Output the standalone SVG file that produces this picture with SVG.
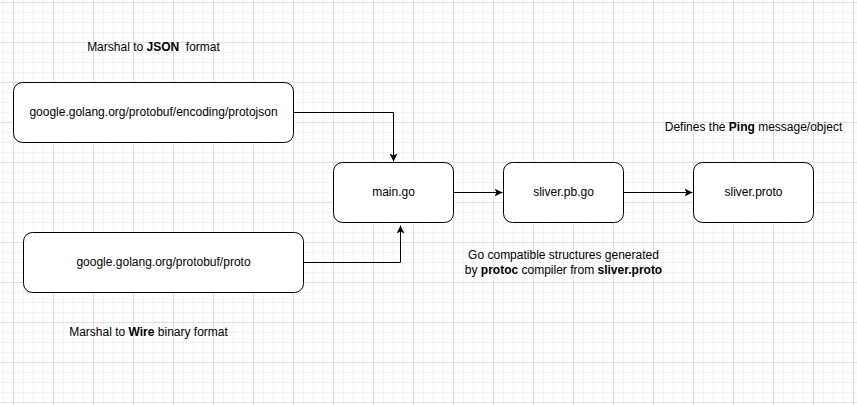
<svg xmlns="http://www.w3.org/2000/svg" width="857" height="405" viewBox="0 0 857 405">
<style>
.node rect{fill:#fff;stroke:#000;stroke-width:1}
text{font-family:"Liberation Sans",Arial,sans-serif;font-size:12px;fill:#000;text-anchor:middle}
.b{font-weight:bold}
.edge{fill:none;stroke:#000;stroke-width:1}
</style>
<defs>
<pattern id="minor" patternUnits="userSpaceOnUse" x="3" y="2" width="10" height="10">
<path d="M0.5,0V10M0,0.5H10" fill="none" stroke="#f2f2f2" stroke-width="1"/>
</pattern>
<pattern id="major" patternUnits="userSpaceOnUse" x="13" y="2" width="40" height="40">
<path d="M0.5,0V40M0,0.5H40" fill="none" stroke="#dedede" stroke-width="1"/>
</pattern>
<marker id="arrow" markerUnits="userSpaceOnUse" viewBox="0 0 8 8" refX="8" refY="4" markerWidth="8" markerHeight="8" orient="auto">
<path d="M0,0L8,4L0,8L2,4Z" fill="#000"/>
</marker>
</defs>
<rect width="857" height="405" fill="#fff"/>
<rect width="857" height="405" fill="url(#minor)"/>
<rect width="857" height="405" fill="url(#major)"/>

<g id="connectors">
<path class="edge" d="M293.5,112.5H393.5V161.5" marker-end="url(#arrow)"/>
<path class="edge" d="M303.5,262.5H400.5V225.5" marker-end="url(#arrow)"/>
<path class="edge" d="M453.5,192.5H502.5" marker-end="url(#arrow)"/>
<path class="edge" d="M623.5,192.5H692.5" marker-end="url(#arrow)"/>
</g>

<g id="protojson" class="node">
<rect x="13.5" y="82.5" width="280" height="60" rx="9" ry="9"/>
<text x="153.5" y="116">google.golang.org/protobuf/encoding/protojson</text>
</g>
<g id="proto" class="node">
<rect x="23.5" y="232.5" width="280" height="60" rx="9" ry="9"/>
<text x="163.5" y="266">google.golang.org/protobuf/proto</text>
</g>
<g id="main" class="node">
<rect x="333.5" y="162.5" width="120" height="60" rx="9" ry="9"/>
<text x="393.5" y="196">main.go</text>
</g>
<g id="pbgo" class="node">
<rect x="503.5" y="162.5" width="120" height="60" rx="9" ry="9"/>
<text x="563.5" y="196">sliver.pb.go</text>
</g>
<g id="sliverproto" class="node">
<rect x="693.5" y="162.5" width="120" height="60" rx="9" ry="9"/>
<text x="753.5" y="196">sliver.proto</text>
</g>

<g id="labels">
<text x="153.5" y="51" xml:space="preserve">Marshal to <tspan class="b">JSON</tspan>  format</text>
<text x="148.5" y="336">Marshal to <tspan class="b">Wire</tspan> binary format</text>
<text x="753.5" y="131">Defines the <tspan class="b">Ping</tspan> message/object</text>
<text x="563.5" y="259">Go compatible structures generated</text>
<text x="563.5" y="274">by <tspan class="b">protoc</tspan> compiler from <tspan class="b">sliver.proto</tspan></text>
</g>
</svg>
